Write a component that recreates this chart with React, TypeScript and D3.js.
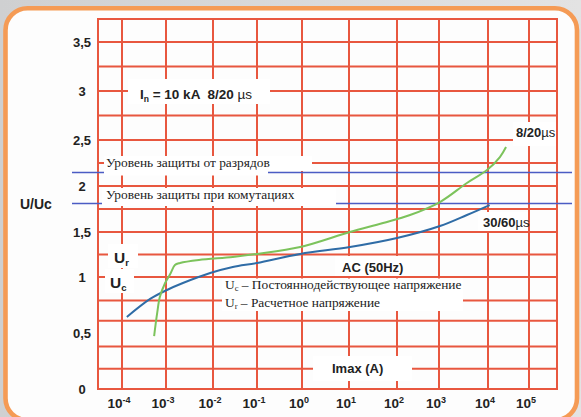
import React from 'react';
import * as d3 from 'd3';

// lg(Imax) -> U/Uc
const acLg = [-3.89, -3.36, -2.98, -2.64, -2.06, -1.55, -1.0, -0.04, 1.02, 2.0, 3.02, 3.57, 4.04];
const acU = [0.643, 0.804, 0.884, 0.946, 1.044, 1.111, 1.156, 1.256, 1.333, 1.433, 1.565, 1.685, 1.793];

const pulseLg = [-3.27, -3.2, -3.14, -3.02, -2.91, -2.81, -2.7, -2.3, -1.55, -1.0, -0.04, 1.02, 1.71, 2.31, 3.02, 3.57, 3.98, 4.29, 4.44];
const pulseU = [0.473, 0.679, 0.821, 0.946, 1.033, 1.133, 1.156, 1.189, 1.222, 1.256, 1.333, 1.5, 1.598, 1.685, 1.826, 2.033, 2.174, 2.315, 2.424];

const decades = [-4, -3, -2, -1, 0, 1, 2, 3, 4, 5];
const yTicks = [3.5, 3, 2.5, 2, 1.5, 1, 0.5, 0];
const hGrid = [0.18, 0.38, 0.61, 0.79, 1, 1.25, 1.5, 1.75, 2, 2.25, 2.5, 2.75, 3, 3.25, 3.5];
const levels = [2.147, 1.81];

const GRID = '#e8573f';
const SANS = 'Liberation Sans, Arial, sans-serif';
const SERIF = 'Liberation Serif, Times New Roman, serif';

// the sheet is not evenly spaced, so both scales are piecewise
const x = d3.scaleLinear()
  .domain([-4.55, -4, -3, -2, -1, 0, 1, 2, 3, 4, 5, 5.68])
  .range([98, 122, 166, 213, 257, 302, 349, 397, 439, 488, 529, 557]);
const y = d3.scaleLinear()
  .domain([0, 1, 1.5, 2, 2.5, 3, 3.5, 3.75])
  .range([389, 277, 232, 186, 140, 91, 42, 19]);

const [x0, x1] = [x(-4.55), x(5.68)];
const [yTop, yBot] = [y(3.75), y(0)];

const line = d3.line<[number, number]>()
  .x(d => x(d[0]))
  .y(d => y(d[1]))
  .curve(d3.curveCatmullRom.alpha(0.5));

const zip = (a: number[], b: number[]) => a.map((v, i) => [v, b[i]] as [number, number]);

const Box = ({ x0, y0, x1, y1 }: { x0: number; y0: number; x1: number; y1: number }) => (
  <rect x={x0} y={y0} width={x1 - x0} height={y1 - y0} fill="#ffffff" />
);

const App = () => {
  return (
    <svg width={581} height={417} style={{ position: 'absolute', left: 0, top: 0 }}>
      <defs>
        <linearGradient id="bg" x1="0" y1="0" x2="1" y2="0">
          <stop offset="0" stopColor="#cfd0d1" />
          <stop offset="1" stopColor="#e3e3e3" />
        </linearGradient>
      </defs>
      <rect width={581} height={417} fill="url(#bg)" />
      <rect x={5.5} y={8.2} width={571.5} height={412} rx={22} fill="#fdfdfd" stroke="#f59b55" strokeWidth={4.6} />

      {/* grid */}
      <g stroke={GRID} strokeWidth={2}>
        {hGrid.map(v => (
          <line key={'h' + v} x1={x0} x2={x1} y1={y(v)} y2={y(v)} />
        ))}
        {decades.map(d => (
          <line key={'v' + d} x1={x(d)} x2={x(d)} y1={yTop} y2={yBot} />
        ))}
        <rect x={x0} y={yTop} width={x1 - x0} height={yBot - yTop} fill="none" />
      </g>

      {/* protection levels */}
      {levels.map(v => (
        <line key={'l' + v} x1={72} x2={572} y1={y(v)} y2={y(v)} stroke="#4b5cc4" strokeWidth={1.5} />
      ))}

      {/* label boxes over the grid */}
      <Box x0={104} y0={156} x1={268} y1={175.5} />
      <Box x0={268} y0={156} x1={312} y1={171} />
      <Box x0={102} y0={188} x1={336} y1={206} />
      <Box x0={128} y0={79} x1={270} y1={104} />
      <Box x0={513} y0={122} x1={556} y1={146} />
      <Box x0={478} y0={212} x1={528} y1={231} />
      <Box x0={335} y0={256} x1={410} y1={276} />
      <Box x0={313} y0={356} x1={412} y1={381} />
      <Box x0={108} y0={244} x1={138} y1={268} />
      <Box x0={105} y0={269} x1={134} y1={293} />
      <Box x0={222} y0={278.5} x1={463} y1={311} />

      {/* curves */}
      <path d={line(zip(acLg, acU)) || ''} fill="none" stroke="#2f6ca6" strokeWidth={2} />
      <path d={line(zip(pulseLg, pulseU)) || ''} fill="none" stroke="#7cc35c" strokeWidth={2} />

      {/* axes */}
      <g fontFamily={SANS} fontWeight="bold" fontSize={13} fill="#222">
        {yTicks.map(v => (
          <text key={'y' + v} x={82} y={y(v) + 4.5} textAnchor="middle">
            {String(v).replace('.', ',')}
          </text>
        ))}
        <text x={20} y={209} fontSize={14}>U/Uc</text>
        {decades.map(d => (
          <text key={'x' + d} x={x(d) - 3} y={408} textAnchor="middle" fontSize={13.5}>
            10<tspan dy={-5.5} fontSize={9}>{d}</tspan>
          </text>
        ))}
      </g>

      {/* annotations */}
      <g fontFamily={SANS} fontWeight="bold" fontSize={13.5} fill="#222">
        <text x={140} y={99}>
          I<tspan dy={3} fontSize={8.5}>n</tspan>
          <tspan dy={-3}> = 10 kA</tspan>
          <tspan dx={7}>8/20 </tspan>
          <tspan fontWeight="normal">µs</tspan>
        </text>
        <text x={516} y={137} fontSize={13}>8/20<tspan fontWeight="normal">µs</tspan></text>
        <text x={483} y={227} fontSize={13}>30/60<tspan fontWeight="normal">µs</tspan></text>
        <text x={342} y={272} fontSize={13}>AC (50Hz)</text>
        <text x={332} y={373} fontSize={13}>Imax (A)</text>
        <text x={114} y={263} fontSize={15.5}>U<tspan dy={3} fontSize={9.5}>r</tspan></text>
        <text x={110} y={288} fontSize={15.5}>U<tspan dy={3} fontSize={9.5}>c</tspan></text>
      </g>

      <g fontFamily={SERIF} fontSize={13.4} fill="#222">
        <text x={106} y={167}>Уровень защиты от разрядов</text>
        <text x={106} y={199}>Уровень защиты при комутациях</text>
        <text x={225} y={289}>
          U<tspan dy={2} fontSize={8.5}>c</tspan><tspan dy={-2}> – Постояннодействующее напряжение</tspan>
        </text>
        <text x={225} y={307}>
          U<tspan dy={2} fontSize={8.5}>r</tspan><tspan dy={-2}> – Расчетное напряжение</tspan>
        </text>
      </g>
    </svg>
  );
};

export default App;
